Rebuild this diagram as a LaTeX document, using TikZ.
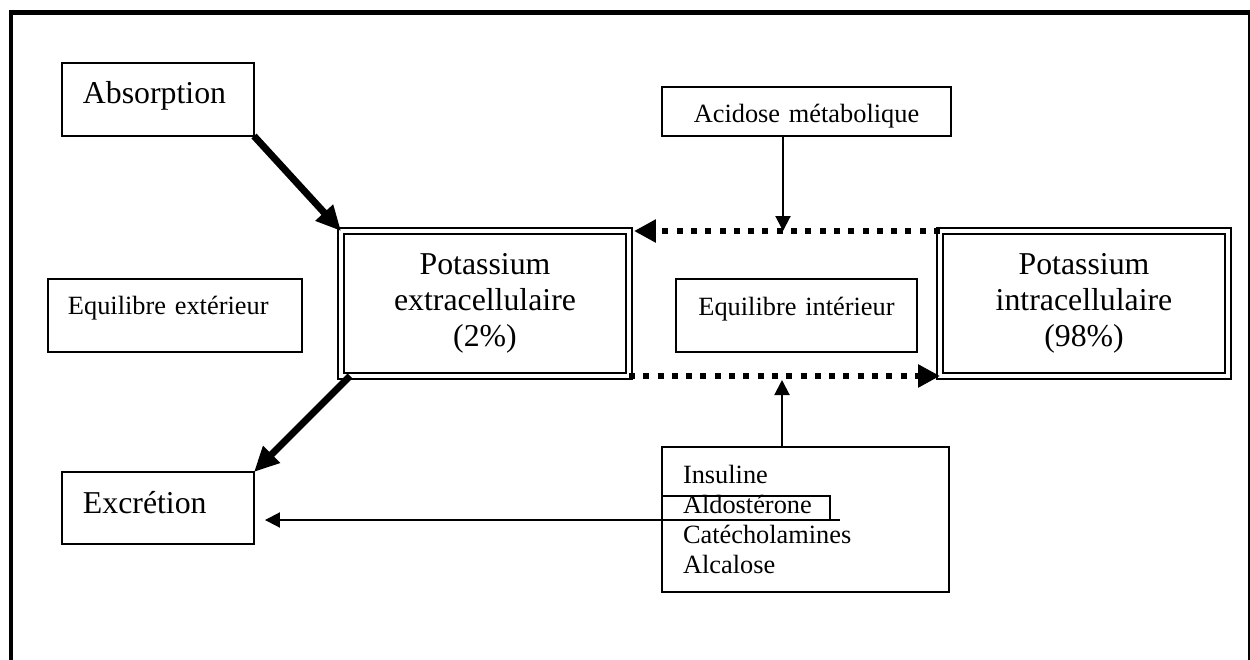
\documentclass[tikz,border=0pt]{standalone}
\usepackage{fontspec}
\setmainfont{Liberation Serif}
\usepackage{tikz}
\usetikzlibrary{arrows.meta,positioning,calc}

\newcommand{\grand}{\fontsize{18.1pt}{20.4pt}\selectfont}
\newcommand{\petit}{\fontsize{15pt}{17pt}\selectfont}

\begin{document}
\begin{tikzpicture}[x=0.02cm,y=-0.02cm,
  boite/.style={draw,line width=0.04cm,anchor=north west,inner ysep=0pt,outer sep=0pt},
  potassium/.style={draw,line width=0.04cm,double,double distance=0.08cm,
    minimum width=5.76cm,minimum height=2.9cm,align=center,outer sep=0pt,font=\grand},
  fleche/.style={line width=0.04cm,-{Triangle[length=0.3cm,width=0.3cm]}},
  grosse/.style={line width=0.14cm,-{Triangle[length=0.5cm,width=0.45cm]}},
  pointille/.style={line width=0.12cm,dash pattern=on 0.12cm off 0.166cm,
    -{Triangle[length=0.44cm,width=0.44cm]}}]
  \useasboundingbox (0,0) rectangle (1250,659);
  % frame
  \draw[line width=0.1cm] (11,680) -- (11,12.5) -- (1250.5,12.5) -- (1250.5,680);
  % outer balance
  \node[boite,inner xsep=0.42cm,text width=3.0cm,text height=0.82cm,text depth=0.64cm,font=\grand]
    (absorption) at (62,63) {Absorption};
  \node[boite,inner xsep=0.4cm,text width=4.28cm,text height=0.72cm,text depth=0.74cm,font=\petit]
    (equiext) at (48,279) {Equilibre extérieur};
  \node[boite,inner xsep=0.42cm,text width=3.0cm,text height=0.82cm,text depth=0.62cm,font=\grand]
    (excretion) at (62,472) {Excrétion};
  % potassium pools
  \node[potassium] (extra) at (485,303.5) {Potassium\\extracellulaire\\(2\%)};
  \node[potassium] (intra) at (1084,303.5) {Potassium\\intracellulaire\\(98\%)};
  % inner balance
  \node[boite,inner xsep=0pt,text width=5.78cm,align=center,text height=0.72cm,text depth=0.26cm,font=\petit]
    (acidose) at (662,87) {Acidose métabolique};
  \node[boite,inner xsep=0pt,text width=4.82cm,align=center,text height=0.74cm,text depth=0.72cm,font=\petit]
    (equiint) at (676,279) {Equilibre intérieur};
  \node[boite,inner xsep=0.42cm,text width=4.9cm,minimum height=2.9cm,align=left,font=\petit]
    (facteurs) at (662,447) {Insuline\\Aldostérone\\Catécholamines\\Alcalose};
  \draw[line width=0.04cm] (662,496) rectangle (830,520);
  \coordinate (haut) at (783,231);
  \coordinate (bas) at (782,380);
  \coordinate (depart) at (840,520);
  % arrows
  \draw[grosse] (absorption.south east) -- (extra.north west);
  \draw[grosse] ([xshift=0.18cm]extra.south west) -- (excretion.north east);
  \draw[pointille,shorten >=0.1cm] (intra.north west) -- (extra.north east);
  \draw[pointille] (extra.south east) -- (intra.south west);
  \draw[fleche] (acidose.south -| haut) -- (haut);
  \draw[fleche] (facteurs.north -| bas) -- (bas);
  \draw[fleche,shorten >=0.22cm] (depart) -- (depart -| excretion.east);
\end{tikzpicture}
\end{document}
